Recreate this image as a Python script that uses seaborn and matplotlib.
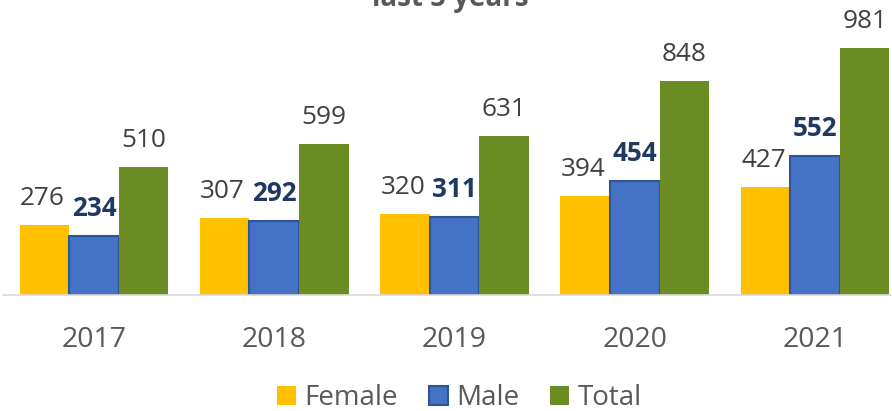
import matplotlib
matplotlib.use("Agg")
import matplotlib.pyplot as plt
import matplotlib.patches as mpatches
import pandas as pd
import seaborn as sns

years = ["2017", "2018", "2019", "2020", "2021"]
female = [276, 307, 320, 394, 427]
male = [234, 292, 311, 454, 552]
total = [510, 599, 631, 848, 981]
series = ["Female", "Male", "Total"]
colors = {"Female": "#FFC000", "Male": "#4472C4", "Total": "#6B8C23"}

df = pd.DataFrame({
    "year": years * 3,
    "series": ["Female"] * 5 + ["Male"] * 5 + ["Total"] * 5,
    "value": female + male + total,
})

sns.set_style("white")
plt.rcParams["font.family"] = ["Open Sans", "DejaVu Sans"]

fig = plt.figure(figsize=(8.92, 4.11), dpi=100)
ax = fig.add_axes([3 / 892, 116 / 411, 889 / 892, 295 / 411])

sns.barplot(data=df, x="year", y="value", hue="series", hue_order=series,
            palette=colors, width=0.825, gap=0, saturation=1, legend=False, ax=ax)

# male bars get a darker outline
for cont, name in zip(ax.containers, series):
    for bar in cont:
        if name == "Male":
            bar.set_edgecolor("#2F5597")
            bar.set_linewidth(1.5)
        else:
            bar.set_linewidth(0)

# value labels
for cont, name in zip(ax.containers, series):
    dx = -1.5 if name == "Female" else 0
    for bar in cont:
        h = bar.get_height()
        if name == "Male":
            kw = dict(color="#1F3864", fontweight="bold")
        else:
            kw = dict(color="#404040")
        ax.annotate(f"{h:.0f}", (bar.get_x() + bar.get_width() / 2, h),
                    xytext=(dx, 14.4), textcoords="offset points",
                    ha="center", va="baseline", fontsize=18.8, **kw)

ax.set_ylim(0, 1171)
ax.set_xlim(-0.505, 4.427)
ax.set_xlabel("")
ax.set_ylabel("")
ax.set_yticks([])
ax.tick_params(axis="x", length=0, pad=22, labelsize=20.5, labelcolor="#595959")
for s in ["top", "right", "left"]:
    ax.spines[s].set_visible(False)
ax.spines["bottom"].set_color("#D9D9D9")
ax.spines["bottom"].set_linewidth(1.2)

# title (cut off at the top in the source image)
fig.text(0.505, 1 - 6 / 411, "last 5 years", ha="center", va="baseline",
         fontsize=20, fontweight="bold", color="#595959")

handles = [mpatches.Patch(facecolor=colors[s],
                          edgecolor="#2F5597" if s == "Male" else colors[s],
                          linewidth=1.5 if s == "Male" else 0, label=s)
           for s in series]
fig.legend(handles=handles, loc="center", bbox_to_anchor=(0.515, 1 - 398 / 411),
           ncol=3, frameon=False, fontsize=20, handlelength=0.7,
           handleheight=0.7, handletextpad=0.3, columnspacing=1.1,
           labelcolor="#595959")

fig.savefig("out.png", dpi=100)
